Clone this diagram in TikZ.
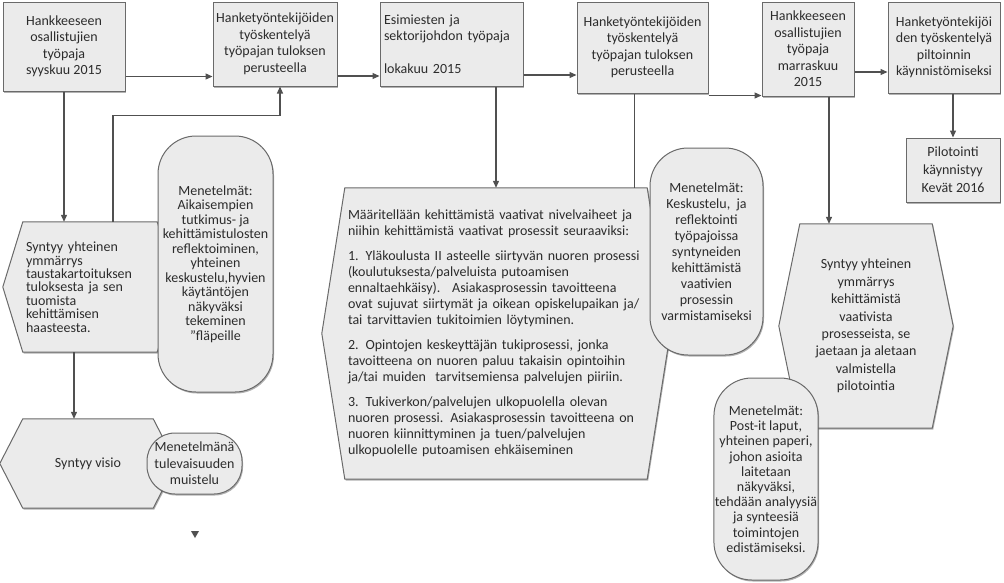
\documentclass[tikz,border=0pt]{standalone}
\usepackage{fontspec}
\setmainfont{Carlito}
\usetikzlibrary{arrows.meta,backgrounds,shadows}

\definecolor{boxfill}{HTML}{EBEBEB}
\definecolor{boxline}{HTML}{6A6A6A}
\definecolor{txtc}{HTML}{2C2C2C}
\definecolor{linec}{HTML}{505050}

% kuusikulmio taustalle: solmu (#1) ja karjen syvyys (#2)
\newcommand{\kuusikulmio}[2]{%
  \fill[black!30,transform canvas={xshift=1pt,yshift=-1.5pt}]
    (#1.north west) -- (#1.north east) -- ([xshift=#2]#1.east) -- (#1.south east)
    -- (#1.south west) -- ([xshift=-#2]#1.west) -- cycle;
  \filldraw[draw=boxline,fill=boxfill,line width=1pt]
    (#1.north west) -- (#1.north east) -- ([xshift=#2]#1.east) -- (#1.south east)
    -- (#1.south west) -- ([xshift=-#2]#1.west) -- cycle;}

\begin{document}
\begin{tikzpicture}[x=1pt,y=-1pt,
  vaihe/.style={draw=boxline, fill=boxfill, line width=1pt, text=txtc, align=center,
    inner sep=2pt, font=\fontsize{14}{16.5}\selectfont,
    drop shadow={shadow xshift=1pt, shadow yshift=-1.5pt, fill=black, opacity=.3}},
  menetelma/.style={vaihe, rounded corners=38pt, inner sep=1pt},
  kuusi/.style={text=txtc, inner sep=2pt, font=\fontsize{14}{16}\selectfont},
  nuoli/.style={draw=linec, line width=1.2pt, -{Triangle[length=7pt,width=6pt]}},
  viiva/.style={draw=linec, line width=1.2pt}]
  \useasboundingbox (0,0) rectangle (1004,582);

  % ylarivi
  \node[vaihe, minimum width=122pt, minimum height=89pt] (osal1) at (64,46.5)
    {Hankkeeseen\\osallistujien\\työpaja\\syyskuu 2015};
  \node[vaihe, minimum width=124pt, minimum height=84pt] (hanke1) at (275,44)
    {Hanketyöntekijöiden\\työskentelyä\\työpajan tuloksen\\perusteella};
  \node[vaihe, minimum width=143pt, minimum height=84pt, align=left, text width=135pt] (esim) at (451.5,44)
    {Esimiesten ja\\sektorijohdon työpaja\\[16pt]lokakuu 2015};
  \node[vaihe, minimum width=131pt, minimum height=91pt] (hanke2) at (642.5,47.5)
    {Hanketyöntekijöiden\\työskentelyä\\työpajan tuloksen\\perusteella};
  \node[vaihe, minimum width=92pt, minimum height=94pt] (osal2) at (808,49)
    {Hankkeeseen\\osallistujien\\työpaja\\marraskuu\\2015};
  \node[vaihe, minimum width=112pt, minimum height=91pt] (hanke3) at (944,47.5)
    {Hanketyöntekijöi\\den työskentelyä\\piltoinnin\\käynnistömiseksi};
  \node[vaihe, minimum width=94pt, minimum height=64pt, font=\fontsize{14}{18}\selectfont] (pilot) at (953,170)
    {Pilotointi\\käynnistyy\\Kevät 2016};

  % kuusikulmioiden tekstit
  \node[kuusi, minimum width=134pt, minimum height=130pt, text width=128pt, align=left,
    font=\fontsize{14}{13.4}\selectfont] (synty1) at (90,287)
    {Syntyy yhteinen\\ymmärrys\\taustakartoituksen\\tuloksesta ja sen\\tuomista\\kehittämisen\\haasteesta.};
  \node[kuusi, minimum width=130pt, minimum height=89pt] (visio) at (88,463.5) {Syntyy visio};
  \node[kuusi, minimum width=302pt, minimum height=291pt, text width=296pt, align=left] (bighex) at (496,333.5)
    {Määritellään kehittämistä vaativat nivelvaiheet ja\\niihin kehittämistä vaativat prosessit seuraaviksi:\\[9pt]
     1. Yläkoulusta II asteelle siirtyvän nuoren prosessi\\(koulutuksesta/palveluista putoamisen\\ennaltaehkäisy).~ Asiakasprosessin tavoitteena\\ovat sujuvat siirtymät ja oikean opiskelupaikan ja/\\tai tarvittavien tukitoimien löytyminen.\\[9pt]
     2. Opintojen keskeyttäjän tukiprosessi, jonka\\tavoitteena on nuoren paluu takaisin opintoihin\\ja/tai muiden~ tarvitsemiensa palvelujen piiriin.\\[9pt]
     3. Tukiverkon/palvelujen ulkopuolella olevan\\nuoren prosessi. Asiakasprosessin tavoitteena on\\nuoren kiinnittyminen ja tuen/palvelujen\\ulkopuolelle putoamisen ehkäiseminen};
  \node[kuusi, minimum width=132pt, minimum height=204pt, align=center,
    font=\fontsize{14}{17.4}\selectfont] (synty3) at (866,326)
    {Syntyy yhteinen\\ymmärrys\\kehittämistä\\vaativista\\prosesseista, se\\jaetaan ja aletaan\\valmistella\\pilotointia};

  \begin{scope}[on background layer]
    \fill[white] (0,0) rectangle (1004,582);
    \kuusikulmio{synty1}{20pt}
    \kuusikulmio{visio}{23pt}
    \kuusikulmio{bighex}{23pt}
    \kuusikulmio{synty3}{21pt}
  \end{scope}

  % menetelmat
  \node[menetelma, minimum width=115pt, minimum height=256pt, font=\fontsize{14}{14.5}\selectfont] (mene1) at (215.5,264)
    {Menetelmät:\\Aikaisempien\\tutkimus- ja\\kehittämistulosten\\reflektoiminen,\\yhteinen\\keskustelu,hyvien\\käytäntöjen\\näkyväksi\\tekeminen\\”fläpeille};
  \node[menetelma, minimum width=95pt, minimum height=61pt, rounded corners=28pt] (mene4) at (194.5,463.5)
    {Menetelmänä\\tulevaisuuden\\muistelu};
  \node[menetelma, minimum width=113pt, minimum height=207pt, font=\fontsize{14}{16}\selectfont] (mene2) at (706.5,251.5)
    {Menetelmät:\\Keskustelu,~ ja\\reflektointi\\työpajoissa\\syntyneiden\\kehittämistä\\vaativien\\prosessin\\varmistamiseksi};
  \node[menetelma, minimum width=102pt, minimum height=202pt, font=\fontsize{14}{15.2}\selectfont] (mene3) at (766,479)
    {Menetelmät:\\Post-it laput,\\yhteinen paperi,\\johon asioita\\laitetaan\\näkyväksi,\\tehdään analyysiä\\ja synteesiä\\toimintojen\\edistämiseksi.};

  % yhteydet
  \draw[nuoli] ([yshift=-30pt]osal1.east) -- ([yshift=-30pt]osal1.east -| hanke1.west);
  \draw[nuoli] ([yshift=-32pt]hanke1.east) -- ([yshift=-32pt]hanke1.east -| esim.west);
  \draw[nuoli] ([yshift=-31pt]esim.east) -- ([yshift=-31pt]esim.east -| hanke2.west);
  \draw[nuoli] ([yshift=-2pt]hanke2.south east) -- ([yshift=-2pt]hanke2.south east -| osal2.west);
  \draw[nuoli] ([yshift=-23pt]osal2.east) -- ([yshift=-23pt]osal2.east -| hanke3.west);
  \draw[nuoli] (osal1.south) -- (osal1.south |- synty1.north);
  \draw[nuoli] ([xshift=23pt]synty1.north) |- ([xshift=5pt,yshift=-29pt]hanke1.south) -- ([xshift=5pt]hanke1.south);
  \draw[nuoli] ([xshift=-16pt]synty1.south) -- ([xshift=-16pt]synty1.south |- visio.north);
  \draw[nuoli] (bighex.north |- esim.south) -- (bighex.north);
  \draw[viiva] ([xshift=-8pt]hanke2.south) -- ([xshift=-8pt]hanke2.south |- bighex.north);
  \draw[nuoli] ([xshift=21pt]osal2.south) -- ([xshift=21pt]osal2.south |- synty3.north);
  \draw[nuoli] (pilot.north |- hanke3.south) -- (pilot.north);
  \fill[linec] (191,531) -- (199,531) -- (195,538) -- cycle;
\end{tikzpicture}
\end{document}
